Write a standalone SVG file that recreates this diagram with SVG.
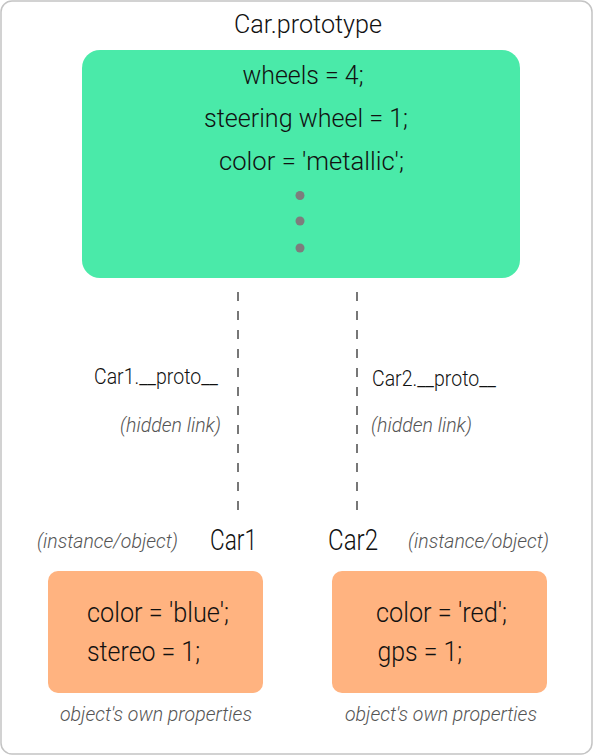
<svg xmlns="http://www.w3.org/2000/svg" width="593" height="755" viewBox="0 0 593 755">
  <style>
    .t { font-family: Roboto, "Liberation Sans", sans-serif; font-weight: 300; fill: #111; }
    .big { font-size: 26px; }
    .own { font-size: 27px; }
    .mid { font-size: 22px; }
    .lbl { font-size: 29px; }
    .note { font-family: Roboto, "Liberation Sans", sans-serif; font-weight: 300; font-style: italic; font-size: 20px; fill: #555; }
    .link { stroke: #777; stroke-width: 2; stroke-dasharray: 9 10; fill: none; }
    .dot { fill: #7d7d7d; }
  </style>
  <rect x="1" y="1" width="591" height="753" rx="11" fill="#fff" stroke="#c4c4c4" stroke-width="1.5"/>

  <g id="connectors">
    <line class="link" x1="238" y1="292" x2="238" y2="518"/>
    <line class="link" x1="357" y1="292" x2="357" y2="518"/>
    <text class="t mid" x="94" y="384" textLength="124" lengthAdjust="spacingAndGlyphs">Car1.__proto__</text>
    <text class="note" x="120" y="432" textLength="101" lengthAdjust="spacingAndGlyphs">(hidden link)</text>
    <text class="t mid" x="372" y="386" textLength="124" lengthAdjust="spacingAndGlyphs">Car2.__proto__</text>
    <text class="note" x="371" y="432" textLength="101" lengthAdjust="spacingAndGlyphs">(hidden link)</text>
  </g>

  <g id="prototype">
    <text class="t big" x="234" y="33" textLength="148" lengthAdjust="spacingAndGlyphs">Car.prototype</text>
    <rect x="82" y="50" width="438" height="228" rx="18" fill="#4aeaa9"/>
    <text class="t big" x="242.5" y="84" textLength="121" lengthAdjust="spacingAndGlyphs">wheels = 4;</text>
    <text class="t big" x="204" y="127" textLength="204" lengthAdjust="spacingAndGlyphs">steering wheel = 1;</text>
    <text class="t big" x="219" y="170" textLength="185" lengthAdjust="spacingAndGlyphs">color = 'metallic';</text>
    <circle class="dot" cx="300" cy="195.5" r="4.5"/>
    <circle class="dot" cx="300" cy="221" r="4.5"/>
    <circle class="dot" cx="300" cy="248" r="4.5"/>
  </g>

  <g id="car1">
    <text class="note" x="37" y="548" textLength="141" lengthAdjust="spacingAndGlyphs">(instance/object)</text>
    <text class="t lbl" x="210" y="550" textLength="47" lengthAdjust="spacingAndGlyphs">Car1</text>
    <rect x="48" y="571" width="215" height="122" rx="10" fill="#ffb380"/>
    <text class="t own" x="87" y="622" textLength="142" lengthAdjust="spacingAndGlyphs">color = 'blue';</text>
    <text class="t own" x="87" y="661" textLength="113" lengthAdjust="spacingAndGlyphs">stereo = 1;</text>
    <text class="note" x="60" y="721" textLength="192" lengthAdjust="spacingAndGlyphs">object's own properties</text>
  </g>

  <g id="car2">
    <text class="t lbl" x="328" y="550" textLength="50" lengthAdjust="spacingAndGlyphs">Car2</text>
    <text class="note" x="408" y="548" textLength="141" lengthAdjust="spacingAndGlyphs">(instance/object)</text>
    <rect x="332" y="571" width="215" height="122" rx="10" fill="#ffb380"/>
    <text class="t own" x="376" y="622" textLength="131" lengthAdjust="spacingAndGlyphs">color = 'red';</text>
    <text class="t own" x="377.5" y="661" textLength="84.5" lengthAdjust="spacingAndGlyphs">gps = 1;</text>
    <text class="note" x="345" y="721" textLength="192" lengthAdjust="spacingAndGlyphs">object's own properties</text>
  </g>
</svg>
